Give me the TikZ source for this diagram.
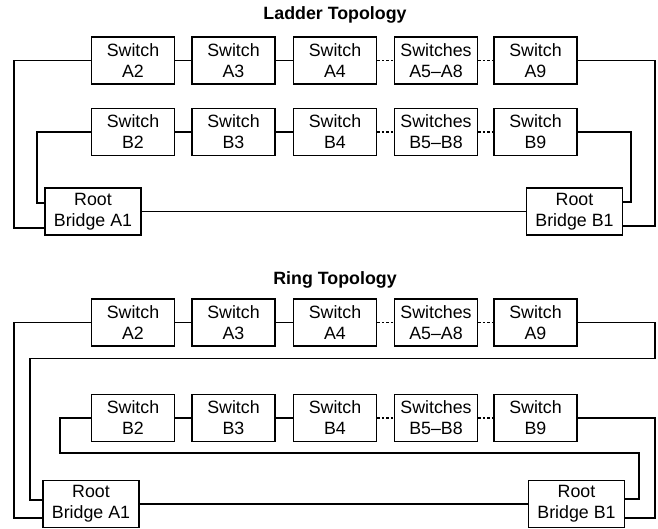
\documentclass[tikz,border=0pt]{standalone}
\usepackage{fontspec}
\setmainfont{Liberation Sans}
\usetikzlibrary{positioning}

\tikzset{
  switchbox/.style={draw, line width=1.8pt, minimum width=83pt, minimum height=47pt,
    inner sep=0pt, align=center, font=\fontsize{17.8}{21}\selectfont},
  rootbox/.style={switchbox, minimum width=96pt},
  link/.style={line width=1.8pt},
  farlink/.style={link, dash pattern=on 2.5pt off 2pt},
  heading/.style={font=\fontsize{17.8}{21}\selectfont\bfseries}
}

\begin{document}
\begin{tikzpicture}[x=1pt, y=-1pt]
                    \useasboundingbox (0,0) rectangle (658,529);

                    % ladder
                    \node[heading] (ltitle) at (335,15) {Ladder Topology};
                    \node[switchbox] (la2) at (133,60.5) {Switch\\A2};
                    \node[switchbox] (la3) at (233.5,60.5) {Switch\\A3};
                    \node[switchbox] (la4) at (335,60.5) {Switch\\A4};
                    \node[switchbox] (la5) at (436,60.5) {Switches\\A5–A8};
                    \node[switchbox] (la9) at (535.5,60.5) {Switch\\A9};
                    \node[switchbox] (lb2) at (133,132) {Switch\\B2};
                    \node[switchbox] (lb3) at (233.5,132) {Switch\\B3};
                    \node[switchbox] (lb4) at (335,132) {Switch\\B4};
                    \node[switchbox] (lb5) at (436,132) {Switches\\B5–B8};
                    \node[switchbox] (lb9) at (535.5,132) {Switch\\B9};
                    \node[rootbox] (lra) at (93,211.5) {Root\\Bridge A1};
                    \node[rootbox] (lrb) at (574.5,211.5) {Root\\Bridge B1};

                    \draw[link] (la2) -- (la3) -- (la4);
                    \draw[farlink] (la4) -- (la5) -- (la9);
                    \draw[link] (lb2) -- (lb3) -- (lb4);
                    \draw[farlink] (lb4) -- (lb5) -- (lb9);
                    \draw[link] (lra) -- (lrb);
                    \draw[link] (la2.west) -- ++(-77,0) |- ([yshift=-16.5pt]lra.west);
                    \draw[link] (lb2.west) -- ++(-54,0) |- ([yshift=8.5pt]lra.west);
                    \draw[link] (la9.east) -- ++(77,0) |- ([yshift=-14.5pt]lrb.east);
                    \draw[link] (lb9.east) -- ++(53,0) |- ([yshift=9.5pt]lrb.east);

                    % ring
                    \node[heading] (rtitle) at (335,280) {Ring Topology};
                    \node[switchbox] (ra2) at (133,322.5) {Switch\\A2};
                    \node[switchbox] (ra3) at (233.5,322.5) {Switch\\A3};
                    \node[switchbox] (ra4) at (335,322.5) {Switch\\A4};
                    \node[switchbox] (ra5) at (436,322.5) {Switches\\A5–A8};
                    \node[switchbox] (ra9) at (535.5,322.5) {Switch\\A9};
                    \node[switchbox] (rb2) at (133,418) {Switch\\B2};
                    \node[switchbox] (rb3) at (233.5,418) {Switch\\B3};
                    \node[switchbox] (rb4) at (335,418) {Switch\\B4};
                    \node[switchbox] (rb5) at (436,418) {Switches\\B5–B8};
                    \node[switchbox] (rb9) at (535.5,418) {Switch\\B9};
                    \node[rootbox] (rra) at (91,504) {Root\\Bridge A1};
                    \node[rootbox] (rrb) at (576.5,504) {Root\\Bridge B1};

                    \draw[link] (ra2) -- (ra3) -- (ra4);
                    \draw[farlink] (ra4) -- (ra5) -- (ra9);
                    \draw[link] (rb2) -- (rb3) -- (rb4);
                    \draw[farlink] (rb4) -- (rb5) -- (rb9);
                    \draw[link] (rra) -- (rrb);
                    \draw[link] (ra2.west) -- ++(-77,0) |- ([yshift=-14pt]rra.west);
                    \draw[link] (ra9.east) -- ++(77,0) -- ++(0,36) -- ++(-625,0) |- ([yshift=4pt]rra.west);
                    \draw[link] (rb2.west) -- ++(-31,0) -- ++(0,35) -- ++(579,0) |- ([yshift=5pt]rrb.east);
                    \draw[link] (rb9.east) -- ++(77,0) |- ([yshift=-14pt]rrb.east);
                \end{tikzpicture}
\end{document}
